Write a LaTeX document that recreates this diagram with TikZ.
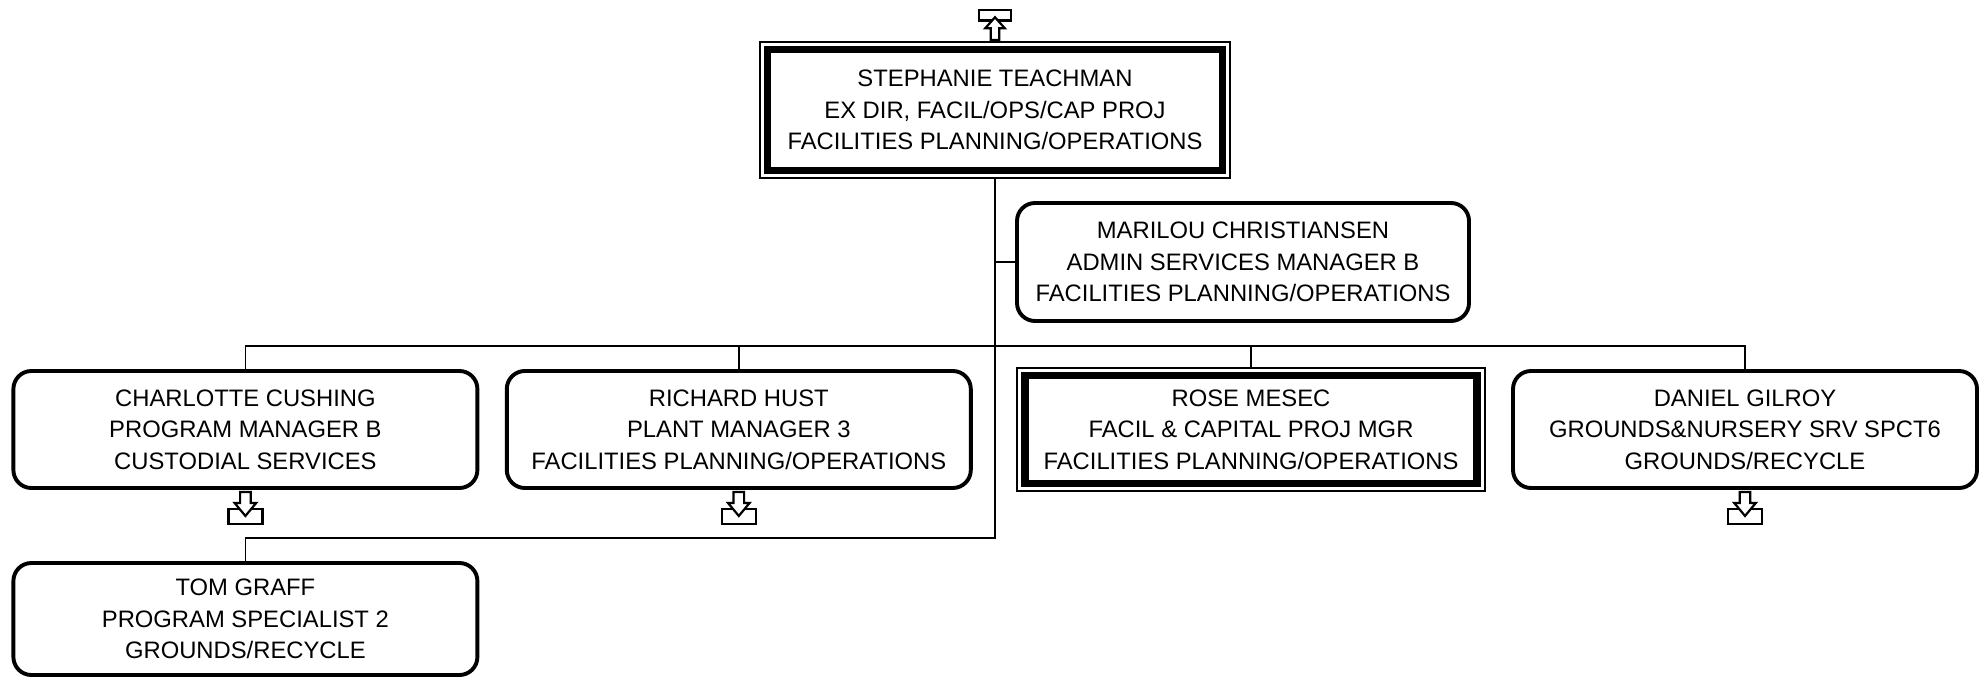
\documentclass[tikz,border=0pt]{standalone}
\usepackage{fontspec}
\setmainfont{Liberation Sans}
\begin{document}
\begin{tikzpicture}[x=1pt,y=-1pt,
  every node/.style={font=\fontsize{23.8}{31.5}\selectfont, align=center, inner sep=0pt},
  rbox/.style={draw, line width=3.9pt, rounded corners=18pt, minimum width=464pt, minimum height=117pt},
  dbox/.style={draw, line width=2pt},
  thickframe/.style={line width=7.8pt},
  conn/.style={line width=1.7pt},
  icon/.style={draw, fill=white, line width=2.2pt, line join=miter},
  downicon/.pic={
    \draw[icon] (-17,18.7) rectangle (17,33.7);
    \draw[icon] (-5.3,2) -- (-5.3,13) -- (-10.8,13) -- (0,26) -- (10.8,13) -- (5.3,13) -- (5.3,2) -- cycle;
  },
  upicon/.pic={
    \draw[icon] (-16,-31) rectangle (16,-20.5);
    \draw[icon] (-4.3,-1) -- (-4.3,-12.7) -- (-9.8,-12.7) -- (0,-23.7) -- (9.8,-12.7) -- (4.3,-12.7) -- (4.3,-1) -- cycle;
  }
]
\useasboundingbox (0,0) rectangle (1986,679);

% top box
\node[dbox, minimum width=470pt, minimum height=136pt] (top) at (995,110)
  {STEPHANIE TEACHMAN\\EX DIR, FACIL/OPS/CAP PROJ\\FACILITIES PLANNING/OPERATIONS};
\draw[thickframe] ([shift={(8.5pt,-8.5pt)}]top.north west) rectangle ([shift={(-8.5pt,8.5pt)}]top.south east);
\pic at (top.north) {upicon};

% assistant
\node[rbox, minimum width=452pt, minimum height=118pt] (marilou) at (1243,262)
  {MARILOU CHRISTIANSEN\\ADMIN SERVICES MANAGER B\\FACILITIES PLANNING/OPERATIONS};

% second row
\node[rbox] (charlotte) at (245.4,429.5)
  {CHARLOTTE CUSHING\\PROGRAM MANAGER B\\CUSTODIAL SERVICES};
\node[rbox] (richard) at (738.8,429.5)
  {RICHARD HUST\\PLANT MANAGER 3\\FACILITIES PLANNING/OPERATIONS};
\node[dbox, minimum width=467.5pt, minimum height=123pt] (rose) at (1251,429.5)
  {ROSE MESEC\\FACIL \& CAPITAL PROJ MGR\\FACILITIES PLANNING/OPERATIONS};
\draw[thickframe] ([shift={(8.5pt,-8.5pt)}]rose.north west) rectangle ([shift={(-8.5pt,8.5pt)}]rose.south east);
\node[rbox] (daniel) at (1745,429.5)
  {DANIEL GILROY\\GROUNDS\&NURSERY SRV SPCT6\\GROUNDS/RECYCLE};

% third row
\node[rbox, minimum height=112pt] (tom) at (245.4,619)
  {TOM GRAFF\\PROGRAM SPECIALIST 2\\GROUNDS/RECYCLE};

\pic at (charlotte.south) {downicon};
\pic at (richard.south) {downicon};
\pic at (daniel.south) {downicon};

% connectors
\coordinate (busy) at (0,346);
\coordinate (tomy) at (0,538);
\draw[conn] (top.south) -- (top.south |- tomy) -| (tom.north);
\draw[conn] (top.south |- marilou.west) -- (marilou.west);
\draw[conn] (charlotte.north) |- (busy -| daniel.north) -- (daniel.north);
\draw[conn] (richard.north |- busy) -- (richard.north);
\draw[conn] (rose.north |- busy) -- (rose.north);
\end{tikzpicture}
\end{document}
